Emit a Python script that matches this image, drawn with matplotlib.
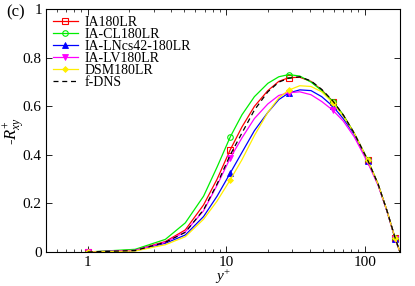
import matplotlib
matplotlib.use("Agg")
import matplotlib.pyplot as plt
from matplotlib.ticker import LogLocator, NullFormatter, FixedLocator, FixedFormatter

plt.rcParams['font.family'] = ['Liberation Serif', 'DejaVu Serif']
plt.rcParams['mathtext.fontset'] = 'custom'
plt.rcParams['mathtext.rm'] = 'Liberation Serif'
plt.rcParams['mathtext.it'] = 'Liberation Serif:italic'

# wall-normal positions y+
yplus = [1, 2.2, 3.64, 5.07, 6.87, 8.6, 10.7, 13, 16, 20, 24, 28.3, 34, 41, 49, 59,
         70, 84, 105, 125, 145, 166, 180]

ia180lr = [0.0, 0.008, 0.043, 0.091, 0.194, 0.30, 0.421, 0.515, 0.60, 0.665, 0.703,
           0.718, 0.72, 0.703, 0.668, 0.62, 0.565, 0.49, 0.38, 0.28, 0.17, 0.056, 0.0]
ia_cl180lr = [0.0, 0.011, 0.052, 0.12, 0.23, 0.35, 0.474, 0.565, 0.64, 0.695, 0.722,
              0.731, 0.725, 0.70, 0.665, 0.62, 0.565, 0.49, 0.38, 0.28, 0.17, 0.056, 0.0]
ia_lncs42 = [0.0, 0.005, 0.036, 0.070, 0.146, 0.23, 0.325, 0.41, 0.50, 0.575, 0.628,
             0.655, 0.668, 0.665, 0.64, 0.60, 0.55, 0.485, 0.375, 0.278, 0.169, 0.055, 0.0]
ia_lv180lr = [0.0, 0.007, 0.04, 0.083, 0.17, 0.275, 0.387, 0.47, 0.55, 0.61, 0.645,
              0.656, 0.66, 0.648, 0.62, 0.584, 0.54, 0.475, 0.37, 0.275, 0.168, 0.055, 0.0]
dsm180lr = [0.0, 0.004, 0.03, 0.063, 0.135, 0.21, 0.297, 0.38, 0.48, 0.575, 0.635,
            0.667, 0.685, 0.682, 0.66, 0.615, 0.56, 0.49, 0.38, 0.28, 0.17, 0.056, 0.0]
fdns = [0.0, 0.006, 0.04, 0.081, 0.174, 0.28, 0.40, 0.49, 0.585, 0.66, 0.70,
        0.716, 0.722, 0.705, 0.67, 0.622, 0.565, 0.49, 0.38, 0.28, 0.17, 0.058, 0.0]

marker_idx = [0, 6, 11, 15, 18, 21]

fig = plt.figure(figsize=(4.15, 2.86), dpi=100)
ax = fig.add_axes([0.1108, 0.1189, 0.853, 0.8486])

lw = 0.9
ms = 4
ax.plot(yplus, ia180lr, color='#ff0000', lw=lw, marker='s', ms=ms, mfc='none',
        mew=0.8, markevery=marker_idx, label='IA180LR')
ax.plot(yplus, ia_cl180lr, color='#00ee00', lw=lw, marker='o', ms=ms, mfc='none',
        mew=0.8, markevery=marker_idx, label='IA-CL180LR')
ax.plot(yplus, ia_lncs42, color='#0000ff', lw=lw, marker='^', ms=ms,
        mew=0.6, markevery=marker_idx, label='IA-LNcs42-180LR')
ax.plot(yplus, ia_lv180lr, color='#ff00ff', lw=lw, marker='v', ms=ms,
        mew=0.6, markevery=marker_idx, label='IA-LV180LR')
ax.plot(yplus, dsm180lr, color='#ffee00', lw=lw, marker='D', ms=3,
        mew=0.6, markevery=marker_idx, label='DSM180LR')
ax.plot(yplus, fdns, color='black', lw=lw, ls=(0, (4, 3)), label='f-DNS')

ax.set_xscale('log')
ax.set_xlim(0.5, 180)
ax.set_ylim(0, 1)

ax.xaxis.set_major_locator(FixedLocator([1, 10, 100]))
ax.xaxis.set_major_formatter(FixedFormatter(['1', '10', '100']))
ax.xaxis.set_minor_locator(LogLocator(base=10, subs=range(2, 10)))
ax.xaxis.set_minor_formatter(NullFormatter())
ax.set_yticks([0, 0.2, 0.4, 0.6, 0.8, 1.0])
ax.set_yticklabels(['0', '0.2', '0.4', '0.6', '0.8', '1'])

ax.tick_params(which='both', direction='in', top=True, right=True, labelsize=11, pad=3)
ax.tick_params(which='major', length=4, width=0.6)
ax.tick_params(which='minor', length=2, width=0.5)
for s in ax.spines.values():
    s.set_linewidth(0.8)

ax.set_xlabel(r'$y^{+}$', fontsize=11, labelpad=-1.0)
ax.set_ylabel(r'-$R^{+}_{xy}$', fontsize=12)
ax.yaxis.set_label_coords(-0.054, 0.5)

fig.text(0.015, 0.958, '(c)', fontsize=12, va='center', ha='left')

leg = ax.legend(loc='upper left', bbox_to_anchor=(0.0, 1.0), frameon=False,
                fontsize=10, handlelength=1.8, handletextpad=0.45,
                labelspacing=-0.08, borderaxespad=0.35, borderpad=0.15)

fig.savefig('out.png', dpi=100)
